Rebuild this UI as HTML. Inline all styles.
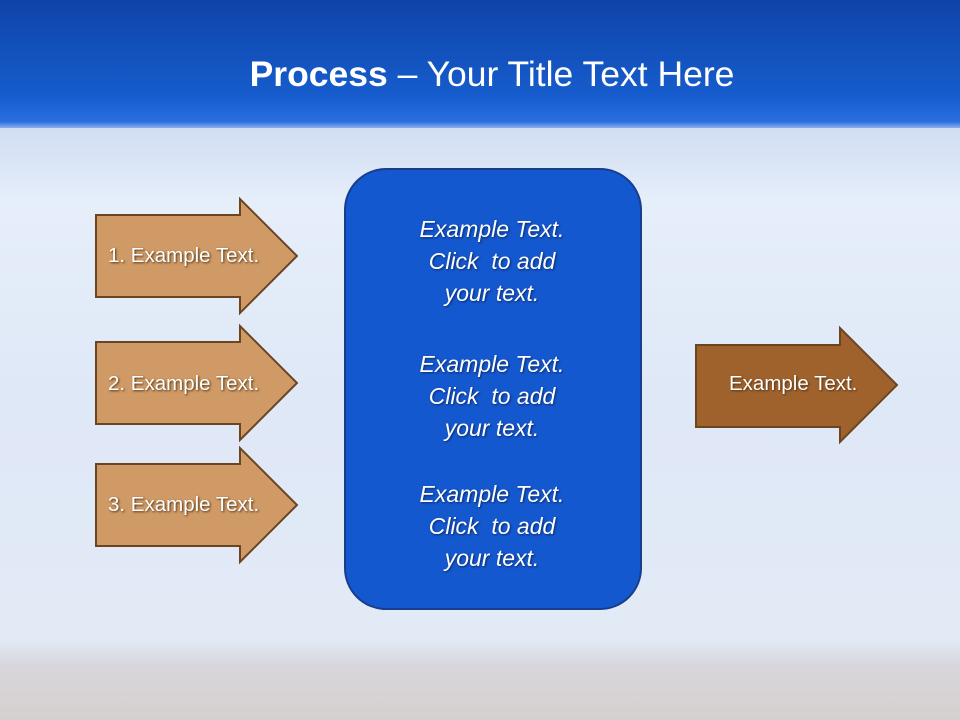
<!DOCTYPE html>
<html><head><meta charset="utf-8"><style>
body{margin:0;width:960px;height:720px;overflow:hidden;font-family:"Liberation Sans",sans-serif;}
.bg{position:absolute;left:0;top:0;width:960px;height:720px;background:linear-gradient(180deg,#cfdcf3 125px,#e6eefa 200px,#dfe8f7 400px,#e2eaf6 640px,#d8d6dc 665px,#d6cfcf 720px);}
.hdr{position:absolute;left:0;top:0;width:960px;height:128px;background:linear-gradient(180deg,#0f44a8 0%,#165ccd 75%,#2a6ee0 95%,#8fb0ea 100%);}
.title{position:absolute;top:54px;left:12px;width:960px;text-align:center;color:#fff;font-size:35.5px;}
.box{position:absolute;left:344px;top:168px;width:294px;height:438px;border:2px solid #173e8c;border-radius:42px;background:#1458cf;}
.bt{position:absolute;left:344px;width:296px;text-align:center;color:#fff;font-style:italic;font-size:23px;line-height:32px;text-shadow:1px 1px 2px #0a2a66;}
.at{position:absolute;color:#fff;font-size:20.5px;text-shadow:1px 1px 2px #4a3010;}
</style></head><body>
<div class="bg"></div>
<div class="hdr"></div>
<div class="title"><b>Process</b> – Your Title Text Here</div>
<svg width="960" height="720" style="position:absolute;left:0;top:0">
<g stroke="#6b4520" stroke-width="2">
<polygon points="96,215 240,215 240,199 297,256 240,313 240,297 96,297" fill="#d09a66"/>
<polygon points="96,342 240,342 240,326 297,383 240,440 240,424 96,424" fill="#d09a66"/>
<polygon points="96,464 240,464 240,448 297,505 240,562 240,546 96,546" fill="#d09a66"/>
<polygon points="696,345 840,345 840,328 897,385 840,442 840,427 696,427" fill="#a0622d"/>
</g></svg>
<div class="at" style="left:108px;top:244px">1. Example Text.</div>
<div class="at" style="left:108px;top:372px">2. Example Text.</div>
<div class="at" style="left:108px;top:493px">3. Example Text.</div>
<div class="at" style="left:729px;top:372px">Example Text.</div>
<div class="box"></div>
<div class="bt" style="top:213px">Example Text.<br>Click&nbsp; to add<br>your text.</div>
<div class="bt" style="top:348px">Example Text.<br>Click&nbsp; to add<br>your text.</div>
<div class="bt" style="top:478px">Example Text.<br>Click&nbsp; to add<br>your text.</div>
</body></html>
